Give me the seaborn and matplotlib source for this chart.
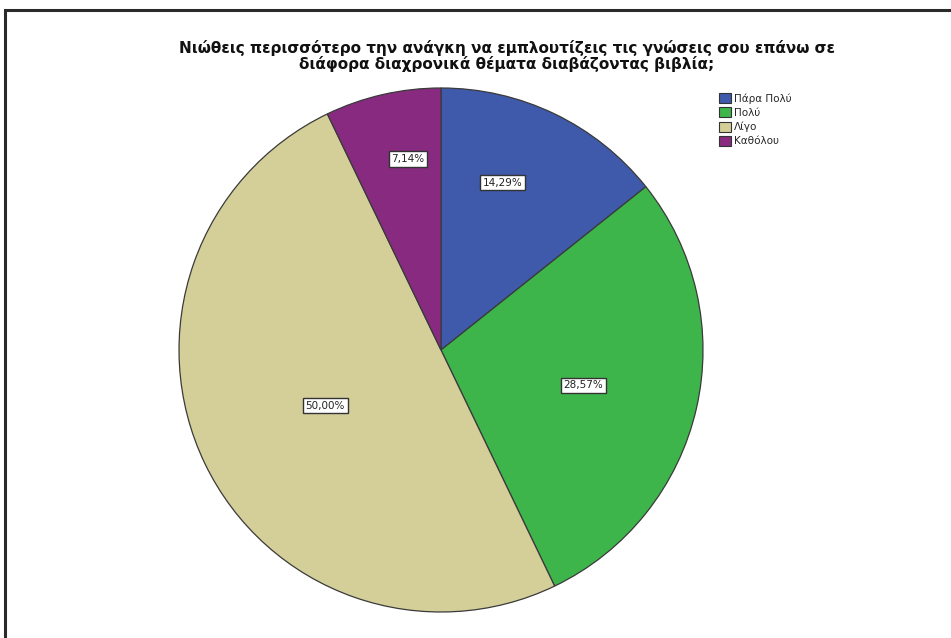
import numpy as np
import matplotlib
matplotlib.use("Agg")
import matplotlib.pyplot as plt
import seaborn as sns
from matplotlib.patches import Rectangle, Patch

categories = ["Πάρα Πολύ", "Πολύ", "Λίγο", "Καθόλου"]
values = [14.29, 28.57, 50.00, 7.14]
colors = ["#3F59AB", "#3DB54B", "#D4CE98", "#882A80"]
label_dist = [0.68, 0.56, 0.49, 0.74]
label_shift = [5.5, -1.0, 0.0, -3.0]
title = ("Νιώθεις περισσότερο την ανάγκη να εμπλουτίζεις τις γνώσεις σου επάνω σε\n"
         "διάφορα διαχρονικά θέματα διαβάζοντας βιβλία;")

sns.set_theme(style="white")
plt.rcParams['font.family'] = ['DejaVu Sans']

W, H = 951, 638
fig = plt.figure(figsize=(W / 100, H / 100), dpi=100)
fig.patch.set_facecolor("white")

# frame (top and left edges visible)
fig.add_artist(Rectangle((5 / W, -0.1), 1.2, (H - 10) / H + 0.1, transform=fig.transFigure,
                         fill=False, edgecolor="#2a2a2a", lw=2.2))

cx, cy, r = 441, 350, 262
ax = fig.add_axes([(cx - r) / W, (H - cy - r) / H, 2 * r / W, 2 * r / H])
pal = sns.color_palette(colors)
wedges, _ = ax.pie(values, colors=pal, startangle=90, counterclock=False,
                   wedgeprops=dict(edgecolor="#3a3a3a", linewidth=0.9), radius=1.0)
for w, v, d, s in zip(wedges, values, label_dist, label_shift):
    ang = np.deg2rad((w.theta1 + w.theta2) / 2 + s)
    ax.text(d * np.cos(ang), d * np.sin(ang), f"{v:.2f}%".replace(".", ","),
            ha="center", va="center", fontsize=7.5, color="#222222",
            bbox=dict(boxstyle="square,pad=0.25", facecolor="white", edgecolor="#333333", lw=1.0))
ax.set_xlim(-1, 1)
ax.set_ylim(-1, 1)
ax.set_aspect("equal")
ax.axis("off")

fig.text(507 / W, 1 - 56 / H, title, ha="center", va="center", fontsize=11,
         fontweight="bold", color="#111111", linespacing=1.0)

handles = [Patch(facecolor=c, edgecolor="#333333", lw=0.8, label=l) for c, l in zip(pal, categories)]
fig.legend(handles=handles, loc="upper left", bbox_to_anchor=(714 / W, 1 - 88 / H),
           frameon=False, fontsize=7.5, handlelength=1.1, handleheight=1.1,
           handletextpad=0.3, labelspacing=0.35, borderpad=0)

fig.savefig("out.png", dpi=100, facecolor="white")
